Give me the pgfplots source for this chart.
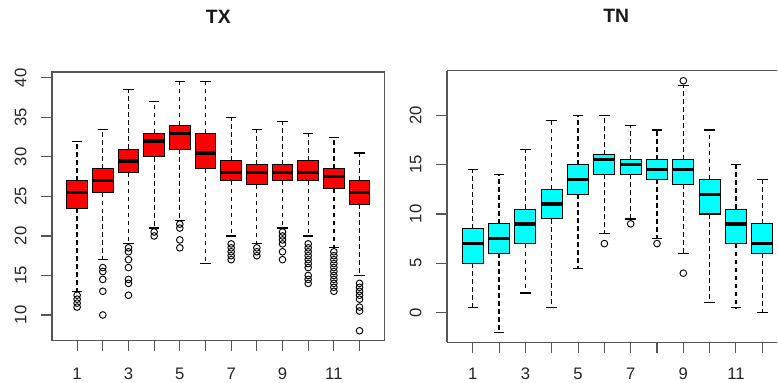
\documentclass[border=0pt]{standalone}
\usepackage{fontspec}
\setmainfont{Liberation Sans}
\usepackage{pgfplots}
\pgfplotsset{compat=1.18}
\usepgfplotslibrary{statistics}
\definecolor{rred}{RGB}{255,0,0}
\definecolor{rcyan}{RGB}{0,255,255}
\definecolor{axgray}{RGB}{85,85,85}
\pgfplotsset{
  /pgfplots/boxplot/draw/lower whisker/.code={%
    \draw[dash pattern=on 3.5pt off 2.5pt, line width=0.95pt, black]
      (boxplot cs:\pgfplotsboxplotvalue{lower quartile})
      -- (boxplot cs:\pgfplotsboxplotvalue{lower whisker});
    \draw[solid, line width=0.9pt, black]
      (boxplot whisker cs:\pgfplotsboxplotvalue{lower whisker},0)
      -- (boxplot whisker cs:\pgfplotsboxplotvalue{lower whisker},1);
  },
  /pgfplots/boxplot/draw/upper whisker/.code={%
    \draw[dash pattern=on 3.5pt off 2.5pt, line width=0.95pt, black]
      (boxplot cs:\pgfplotsboxplotvalue{upper quartile})
      -- (boxplot cs:\pgfplotsboxplotvalue{upper whisker});
    \draw[solid, line width=0.9pt, black]
      (boxplot whisker cs:\pgfplotsboxplotvalue{upper whisker},0)
      -- (boxplot whisker cs:\pgfplotsboxplotvalue{upper whisker},1);
  },
  rbox/.style={
    boxplot/draw direction=y,
    boxplot/box extend=0.8,
    boxplot/whisker extend=0.4,
    boxplot/every median/.style={line width=2.6pt, black},
    boxplot/every box/.style={draw=black, fill=#1, line width=0.8pt},
    mark=o, mark size=2.5pt,
    mark options={draw=black, fill=none, line width=0.7pt, solid},
    draw=black, line width=0.8pt,
  },
  rax/.style={
    scale only axis,
    anchor=south west,
    xmin=0.02,
    tick pos=left,
    tick align=outside,
    major tick length=8pt,
    axis line style={axgray, line width=0.9pt},
    tick style={axgray, line width=0.8pt},
    xtick={1,...,12},
    xticklabels={1,,3,,5,,7,,9,,11,},
    /pgf/number format/assume math mode=true,
    ticklabel style={font=\fontsize{12.5}{14}\selectfont, text=black!85, inner sep=0pt},
    xticklabel style={anchor=base, yshift=-21.4pt},
    yticklabel style={xshift=-11.25pt, rotate=90, anchor=base},
    title style={at={(0.5,1)}, anchor=base, yshift=30pt,
      font=\bfseries\fontsize{14.5}{16}\selectfont, text=black!90},
  },
}
\begin{document}
\begin{tikzpicture}
\path (0,0) rectangle (583.5pt,287.25pt);
\begin{axis}[rax, at={(39pt,31.5pt)}, width=249.75pt, height=201.75pt,
  xmax=12.98, ymin=6.74, ymax=40.76, ytick={10,15,...,40}, title={TX}]
\addplot[rbox=rred, boxplot prepared={lower whisker=13, lower quartile=23.5, median=25.5, upper quartile=27, upper whisker=32, draw position=1}]
  coordinates {(1,12.5)(1,12)(1,11.5)(1,11)};
\addplot[rbox=rred, boxplot prepared={lower whisker=17, lower quartile=25.5, median=27, upper quartile=28.5, upper whisker=33.5, draw position=2}]
  coordinates {(2,16)(2,15.5)(2,14.5)(2,13)(2,10)};
\addplot[rbox=rred, boxplot prepared={lower whisker=19, lower quartile=28, median=29.5, upper quartile=31, upper whisker=38.5, draw position=3}]
  coordinates {(3,18.5)(3,18)(3,17)(3,16)(3,14.5)(3,14)(3,12.5)};
\addplot[rbox=rred, boxplot prepared={lower whisker=21, lower quartile=30, median=32, upper quartile=33, upper whisker=37, draw position=4}]
  coordinates {(4,20.5)(4,20)};
\addplot[rbox=rred, boxplot prepared={lower whisker=22, lower quartile=31, median=33, upper quartile=34, upper whisker=39.5, draw position=5}]
  coordinates {(5,21.5)(5,21)(5,19.5)(5,18.5)};
\addplot[rbox=rred, boxplot prepared={lower whisker=16.5, lower quartile=28.5, median=30.5, upper quartile=33, upper whisker=39.5, draw position=6}]
  coordinates {};
\addplot[rbox=rred, boxplot prepared={lower whisker=20, lower quartile=27, median=28, upper quartile=29.5, upper whisker=35, draw position=7}]
  coordinates {(7,19)(7,18.5)(7,18)(7,17.5)(7,17)};
\addplot[rbox=rred, boxplot prepared={lower whisker=19, lower quartile=26.5, median=28, upper quartile=29, upper whisker=33.5, draw position=8}]
  coordinates {(8,18.5)(8,18)(8,17.5)};
\addplot[rbox=rred, boxplot prepared={lower whisker=21, lower quartile=27, median=28, upper quartile=29, upper whisker=34.5, draw position=9}]
  coordinates {(9,20.5)(9,20)(9,19.5)(9,19)(9,18)(9,17)};
\addplot[rbox=rred, boxplot prepared={lower whisker=20, lower quartile=27, median=28, upper quartile=29.5, upper whisker=33, draw position=10}]
  coordinates {(10,19)(10,18.5)(10,18)(10,17.5)(10,17)(10,16.5)(10,16)(10,15)(10,14.5)(10,14)};
\addplot[rbox=rred, boxplot prepared={lower whisker=18.5, lower quartile=26, median=27.5, upper quartile=28.5, upper whisker=32.5, draw position=11}]
  coordinates {(11,18)(11,17.5)(11,17)(11,16.5)(11,16)(11,15.5)(11,15)(11,14.5)(11,14)(11,13.5)(11,13)};
\addplot[rbox=rred, boxplot prepared={lower whisker=15, lower quartile=24, median=25.5, upper quartile=27, upper whisker=30.5, draw position=12}]
  coordinates {(12,14)(12,13.5)(12,13)(12,12.5)(12,12)(12,11)(12,10.5)(12,8)};
\end{axis}
\begin{axis}[rax, at={(335.5pt,30.2pt)}, width=248pt, height=204pt,
  xmax=12.575, axis x line*=box, axis y line*=left,
  ymin=-3.02, ymax=24.52, ytick={0,5,...,20},
  xticklabel style={yshift=1.3pt},
  title={TN}, title style={xshift=3pt}]
\addplot[rbox=rcyan, boxplot prepared={lower whisker=0.5, lower quartile=5, median=7, upper quartile=8.5, upper whisker=14.5, draw position=1}]
  coordinates {};
\addplot[rbox=rcyan, boxplot prepared={lower whisker=-2, lower quartile=6, median=7.5, upper quartile=9, upper whisker=14, draw position=2}]
  coordinates {};
\addplot[rbox=rcyan, boxplot prepared={lower whisker=2, lower quartile=7, median=9, upper quartile=10.5, upper whisker=16.5, draw position=3}]
  coordinates {};
\addplot[rbox=rcyan, boxplot prepared={lower whisker=0.5, lower quartile=9.5, median=11, upper quartile=12.5, upper whisker=19.5, draw position=4}]
  coordinates {};
\addplot[rbox=rcyan, boxplot prepared={lower whisker=4.5, lower quartile=12, median=13.5, upper quartile=15, upper whisker=20, draw position=5}]
  coordinates {};
\addplot[rbox=rcyan, boxplot prepared={lower whisker=8, lower quartile=14, median=15.5, upper quartile=16, upper whisker=20, draw position=6}]
  coordinates {(6,7)};
\addplot[rbox=rcyan, boxplot prepared={lower whisker=9.5, lower quartile=14, median=15, upper quartile=15.5, upper whisker=19, draw position=7}]
  coordinates {(7,9)};
\addplot[rbox=rcyan, boxplot prepared={lower whisker=7.5, lower quartile=13.5, median=14.5, upper quartile=15.5, upper whisker=18.5, draw position=8}]
  coordinates {(8,7)};
\addplot[rbox=rcyan, boxplot prepared={lower whisker=6, lower quartile=13, median=14.5, upper quartile=15.5, upper whisker=23, draw position=9}]
  coordinates {(9,23.5)(9,4)};
\addplot[rbox=rcyan, boxplot prepared={lower whisker=1, lower quartile=10, median=12, upper quartile=13.5, upper whisker=18.5, draw position=10}]
  coordinates {};
\addplot[rbox=rcyan, boxplot prepared={lower whisker=0.5, lower quartile=7, median=9, upper quartile=10.5, upper whisker=15, draw position=11}]
  coordinates {};
\addplot[rbox=rcyan, boxplot prepared={lower whisker=0, lower quartile=6, median=7, upper quartile=9, upper whisker=13.5, draw position=12}]
  coordinates {};
\end{axis}
\end{tikzpicture}
\end{document}
